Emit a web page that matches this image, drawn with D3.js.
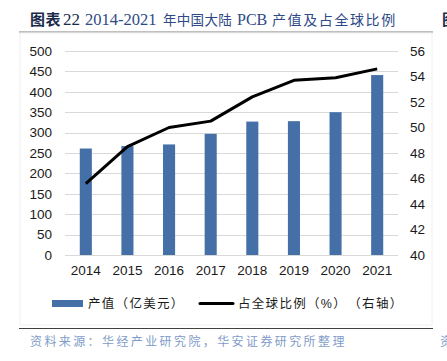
<!DOCTYPE html>
<html>
<head>
<meta charset="utf-8">
<script src="https://cdn.jsdelivr.net/npm/d3@7"></script>
<style>
  body { margin: 0; background: #fff; }
  svg text { font-family: "Liberation Sans", Arial, "Noto Sans CJK SC", sans-serif; }
</style>
</head>
<body>
<svg id="chart" width="447" height="361"></svg>
<script>
// --- Data ---
const years = ["2014", "2015", "2016", "2017", "2018", "2019", "2020", "2021"];
const output = [261, 267, 271, 297, 327, 328, 350, 441];
const share = [45.6, 48.5, 50.0, 50.5, 52.4, 53.7, 53.9, 54.6];
const leftTicks = [0, 50, 100, 150, 200, 250, 300, 350, 400, 450, 500];
const rightTicks = [40, 42, 44, 46, 48, 50, 52, 54, 56];

const svg = d3.select("#chart");
const margin = { top: 51, right: 49, bottom: 106, left: 65 };
const width = +svg.attr("width");
const height = +svg.attr("height");

// --- Title and frame ---
const title = svg.append("text")
  .attr("y", 25)
  .attr("font-size", 15);
title.append("tspan")
  .attr("x", 30)
  .attr("font-family", "Noto Sans CJK SC")
  .attr("font-weight", "bold")
  .attr("letter-spacing", 0.5)
  .attr("fill", "#1c2a4a")
  .text("图表");
title.append("tspan")
  .attr("x", 63)
  .attr("font-family", "Liberation Serif, serif")
  .attr("font-size", 17)
  .attr("fill", "#1c2a4a")
  .text("22");
title.append("tspan")
  .attr("x", 85)
  .attr("font-family", "Liberation Serif, serif")
  .attr("font-size", 16.5)
  .attr("fill", "#2e4a86")
  .text("2014-2021");
title.append("tspan")
  .attr("x", 163)
  .attr("font-family", "Noto Sans CJK SC")
  .attr("font-size", 13.5)
  .attr("letter-spacing", 0.3)
  .attr("fill", "#2e4a86")
  .text("年中国大陆");
title.append("tspan")
  .attr("x", 237)
  .attr("font-family", "Liberation Serif, serif")
  .attr("font-size", 16)
  .attr("fill", "#2e4a86")
  .text("PCB");
title.append("tspan")
  .attr("x", 272)
  .attr("font-family", "Noto Sans CJK SC")
  .attr("font-size", 14)
  .attr("letter-spacing", 1.6)
  .attr("fill", "#2e4a86")
  .text("产值及占全球比例");

svg.append("text")
  .attr("x", 442).attr("y", 25)
  .attr("font-size", 15)
  .attr("font-family", "Noto Sans CJK SC")
  .attr("font-weight", "bold")
  .attr("fill", "#1c2a4a")
  .text("图");

svg.append("line")
  .attr("x1", 19).attr("x2", 433)
  .attr("y1", 32).attr("y2", 32)
  .attr("stroke", "#7f7f7f").attr("stroke-width", 1);

svg.append("rect")
  .attr("x", 20).attr("y", 33)
  .attr("width", 412).attr("height", 292)
  .attr("fill", "none")
  .attr("stroke", "#f0f0f0");

svg.append("line")
  .attr("x1", 19).attr("x2", 433)
  .attr("y1", 328.5).attr("y2", 328.5)
  .attr("stroke", "#404040").attr("stroke-width", 1);

svg.append("text")
  .attr("x", 30).attr("y", 346)
  .attr("font-size", 12)
  .attr("letter-spacing", 2.4)
  .attr("font-family", "Noto Sans CJK SC")
  .attr("fill", "#7f9cc8")
  .text("资料来源：华经产业研究院，华安证券研究所整理");

svg.append("text")
  .attr("x", 440).attr("y", 346)
  .attr("font-size", 12)
  .attr("font-family", "Noto Sans CJK SC")
  .attr("fill", "#7f9cc8")
  .text("资");

// --- Scales ---
const x = d3.scaleBand()
  .domain(years)
  .range([margin.left, width - margin.right])
  .paddingInner(0.71)
  .paddingOuter(0.355);

const y = d3.scaleLinear()
  .domain([0, 500])
  .range([height - margin.bottom, margin.top]);

const y2 = d3.scaleLinear()
  .domain([40, 56])
  .range([height - margin.bottom, margin.top]);

// --- Gridlines ---
svg.append("g")
  .selectAll("line")
  .data(leftTicks)
  .join("line")
  .attr("x1", margin.left)
  .attr("x2", width - margin.right)
  .attr("y1", d => Math.round(y(d)) + 0.5)
  .attr("y2", d => Math.round(y(d)) + 0.5)
  .attr("stroke", "#d9d9d9")
  .attr("stroke-width", 1);

// --- Axes ---
const yAxis = svg.append("g")
  .attr("transform", `translate(${margin.left},0)`)
  .call(d3.axisLeft(y).tickValues(leftTicks).tickSize(0).tickPadding(13));
yAxis.select(".domain").remove();

const y2Axis = svg.append("g")
  .attr("transform", `translate(${width - margin.right},0)`)
  .call(d3.axisRight(y2).tickValues(rightTicks).tickSize(0).tickPadding(12));
y2Axis.select(".domain").remove();

const xAxis = svg.append("g")
  .attr("transform", `translate(0,${height - margin.bottom})`)
  .call(d3.axisBottom(x).tickSize(0).tickPadding(10));
xAxis.select(".domain").remove();

svg.selectAll(".tick text")
  .attr("font-size", 13.5)
  .attr("font-family", "Liberation Sans, Arial, sans-serif")
  .attr("fill", "#1a1a1a");

// --- Bars ---
svg.append("g")
  .selectAll("rect")
  .data(years)
  .join("rect")
  .attr("x", d => x(d))
  .attr("y", (d, i) => y(output[i]))
  .attr("width", x.bandwidth())
  .attr("height", (d, i) => y(0) - y(output[i]))
  .attr("fill", "#4470a7");

// --- Line (right axis) ---
const line = d3.line()
  .x((d, i) => x(years[i]) + x.bandwidth() / 2)
  .y(d => y2(d));

svg.append("path")
  .datum(share)
  .attr("d", line)
  .attr("fill", "none")
  .attr("stroke", "#000")
  .attr("stroke-width", 3)
  .attr("stroke-linejoin", "round");

// --- Legend ---
const legend = svg.append("g")
  .attr("font-family", "Noto Sans CJK SC")
  .attr("font-size", 12.5)
  .attr("letter-spacing", 1.3);
legend.append("rect")
  .attr("x", 52).attr("y", 300)
  .attr("width", 31).attr("height", 7)
  .attr("fill", "#4470a7");
legend.append("text")
  .attr("x", 88).attr("y", 308)
  .attr("fill", "#1a1a1a")
  .text("产值（亿美元）");
legend.append("line")
  .attr("x1", 200).attr("x2", 233)
  .attr("y1", 303.5).attr("y2", 303.5)
  .attr("stroke", "#000")
  .attr("stroke-width", 3)
  .attr("stroke-linecap", "round");
legend.append("text")
  .attr("x", 238).attr("y", 308)
  .attr("fill", "#1a1a1a")
  .text("占全球比例（%）　（右轴）");
</script>
</body>
</html>
